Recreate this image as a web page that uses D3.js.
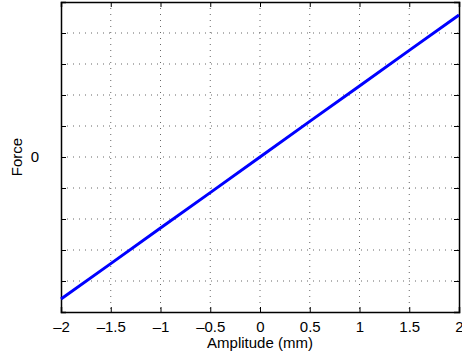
<!DOCTYPE html>
<html>
<head>
<meta charset="utf-8">
<script src="https://cdn.jsdelivr.net/npm/d3@7"></script>
<style>
  body { margin: 0; background: #fff; }
  svg { font-family: "Liberation Sans", Arial, sans-serif; }
</style>
</head>
<body>
<svg width="462" height="360"></svg>
<script>
// amplitude (mm) and force
const amplitude = [-2, -1.5, -1, -0.5, 0, 0.5, 1, 1.5, 2];
const force = [-4.58, -3.44, -2.29, -1.15, 0, 1.15, 2.29, 3.44, 4.58];
const xTicks = [-2, -1.5, -1, -0.5, 0, 0.5, 1, 1.5, 2];
const yTicks = [-5, -4, -3, -2, -1, 0, 1, 2, 3, 4, 5];
const yLabels = { 0: "0" };

const margin = { top: 2, right: 3, bottom: 48, left: 61 };
const width = 462 - margin.left - margin.right;
const height = 360 - margin.top - margin.bottom;

const svg = d3.select("svg");
const g = svg.append("g")
    .attr("transform", `translate(${margin.left},${margin.top})`);

const x = d3.scaleLinear().domain([-2, 2]).range([0, width]);
const y = d3.scaleLinear().domain([-5, 5]).range([height, 0]);

const fmt = d => String(d).replace("-", "\u2013");

// grid
g.append("g").selectAll("line")
    .data(xTicks.slice(1, -1))
    .enter().append("line")
    .attr("x1", d => x(d)).attr("x2", d => x(d))
    .attr("y1", 0).attr("y2", height)
    .attr("stroke", "#666").attr("stroke-dasharray", "1,5");

g.append("g").selectAll("line")
    .data(yTicks.slice(1, -1))
    .enter().append("line")
    .attr("y1", d => y(d)).attr("y2", d => y(d))
    .attr("x1", 0).attr("x2", width)
    .attr("stroke", "#666").attr("stroke-dasharray", "1,5");

// axes with inner ticks
const tick = -5;
g.append("g")
    .attr("transform", `translate(0,${height})`)
    .call(d3.axisBottom(x).tickValues(xTicks).tickSize(tick).tickPadding(9).tickFormat(fmt));
g.append("g")
    .call(d3.axisTop(x).tickValues(xTicks).tickSize(tick).tickFormat(""));
g.append("g")
    .call(d3.axisLeft(y).tickValues(yTicks).tickSize(tick).tickPadding(22)
        .tickFormat(d => yLabels[d] || ""));
g.append("g")
    .attr("transform", `translate(${width},0)`)
    .call(d3.axisRight(y).tickValues(yTicks).tickSize(tick).tickFormat(""));

g.selectAll(".domain").attr("stroke", "#000").attr("stroke-width", 1.5);
g.selectAll(".tick line").attr("stroke", "#000");
g.selectAll(".tick text").attr("font-size", 15).attr("fill", "#000")
    .attr("font-family", "Liberation Sans, Arial, sans-serif");

// line
const line = d3.line().x((d, i) => x(amplitude[i])).y(d => y(d));
g.append("path")
    .datum(force)
    .attr("d", line)
    .attr("fill", "none")
    .attr("stroke", "#0000ff")
    .attr("stroke-width", 3);

// labels
svg.append("text")
    .attr("x", margin.left + width / 2)
    .attr("y", 348)
    .attr("text-anchor", "middle")
    .attr("font-size", 15)
    .text("Amplitude (mm)");

svg.append("text")
    .attr("transform", `translate(22,${margin.top + y(0)}) rotate(-90)`)
    .attr("text-anchor", "middle")
    .attr("font-size", 15)
    .text("Force");
</script>
</body>
</html>
